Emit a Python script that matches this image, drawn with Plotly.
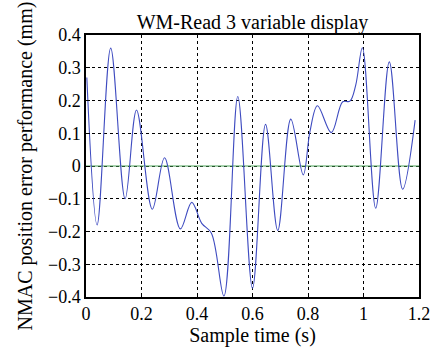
import plotly.graph_objects as go

t = [0.003, 0.040, 0.089, 0.141, 0.182, 0.239, 0.283, 0.340, 0.381, 0.417, 0.452, 0.497,
     0.547, 0.600, 0.647, 0.691, 0.738, 0.783, 0.807, 0.834, 0.884, 0.925, 0.951, 0.972,
     0.996, 1.044, 1.093, 1.141, 1.186]
err = [0.27, -0.18, 0.36, -0.10, 0.171, -0.132, 0.025, -0.192, -0.111, -0.175, -0.205, -0.397,
       0.212, -0.373, 0.127, -0.197, 0.143, -0.027, 0.105, 0.184, 0.102, 0.196, 0.198, 0.247,
       0.361, -0.129, 0.318, -0.071, 0.14]

zero_t = [0, 1.2]
zero_v = [0, 0]

xticks = [0, 0.2, 0.4, 0.6, 0.8, 1, 1.2]
xtick_text = ["0", "0.2", "0.4", "0.6", "0.8", "1", "1.2"]
yticks = [-0.4, -0.3, -0.2, -0.1, 0, 0.1, 0.2, 0.3, 0.4]
ytick_text = ["\u22120.4", "\u22120.3", "\u22120.2", "\u22120.1", "0", "0.1", "0.2", "0.3", "0.4"]

fig = go.Figure()
fig.add_trace(go.Scatter(x=zero_t, y=zero_v, mode="lines",
                         line=dict(color="#4fa35a", width=1.2), showlegend=False))
fig.add_trace(go.Scatter(x=t, y=err, mode="lines",
                         line=dict(color="#3e4bc0", width=1.1, shape="spline", smoothing=1.0),
                         showlegend=False))

font = "Liberation Serif, Times New Roman, serif"
fig.update_layout(
    width=442, height=356,
    margin=dict(l=86, r=18, t=35, b=59),
    paper_bgcolor="white", plot_bgcolor="white",
    font=dict(family=font, size=18, color="black"),
    title=dict(text="WM-Read 3 variable display", x=0.5, xanchor="center",
               xref="paper", y=1, yref="paper", yanchor="bottom", pad=dict(b=6),
               font=dict(family=font, size=20, color="black")),
)
fig.update_xaxes(range=[0, 1.2], tickvals=xticks, ticktext=xtick_text,
                 showgrid=True, gridcolor="black", gridwidth=1, griddash="3px,3px",
                 showline=True, linecolor="black", linewidth=1.5, mirror=True,
                 ticks="inside", ticklen=4, tickcolor="black", zeroline=False,
                 tickfont=dict(size=18),
                 title=dict(text="Sample time (s)", font=dict(size=20), standoff=4))
fig.update_yaxes(range=[-0.4, 0.4], tickvals=yticks, ticktext=ytick_text,
                 showgrid=True, gridcolor="black", gridwidth=1, griddash="3px,3px",
                 showline=True, linecolor="black", linewidth=1.5, mirror=True,
                 ticks="inside", ticklen=4, tickcolor="black", zeroline=False,
                 tickfont=dict(size=18),
                 title=dict(text="NMAC position error performance (mm)", font=dict(size=20), standoff=10))

fig.write_html("out.html")
